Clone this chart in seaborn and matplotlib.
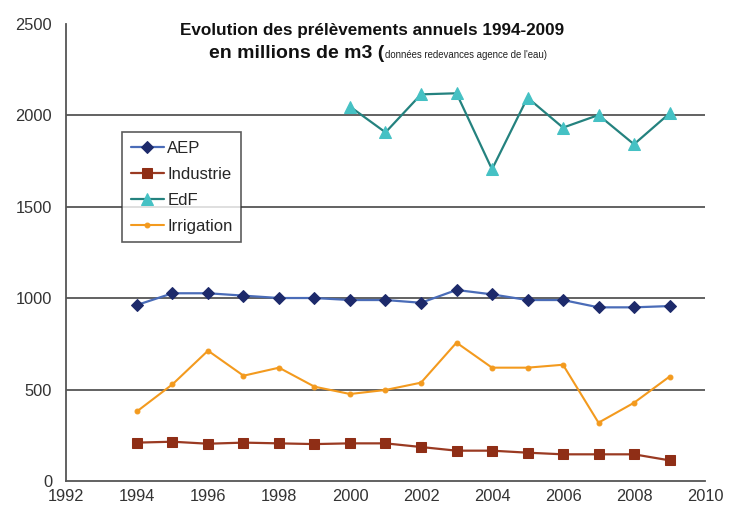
import matplotlib
matplotlib.use("Agg")
import matplotlib.pyplot as plt
import numpy as np
import pandas as pd
import seaborn as sns

years = list(range(1994, 2010))
aep = [963, 1027, 1027, 1014, 1001, 1001, 990, 990, 975, 1045, 1021, 990, 990, 950, 950, 957]
industrie = [210, 215, 204, 210, 206, 202, 206, 206, 186, 166, 166, 155, 146, 146, 146, 113]
edf_years = list(range(2000, 2010))
edf = [2048, 1907, 2115, 2121, 1705, 2097, 1933, 2002, 1842, 2011]
irrigation = [381, 529, 713, 576, 620, 516, 476, 498, 538, 757, 620, 620, 636, 319, 428, 571]

sns.set_theme(style="white")
plt.rcParams['font.family'] = ['Liberation Sans', 'DejaVu Sans']

fig = plt.figure(figsize=(7.39, 5.18), dpi=100)
ax = fig.add_axes([0.0893, 0.0714, 0.8647, 0.8823])

grid_c = "#555555"
for yv in [500, 1000, 1500, 2000]:
    ax.axhline(yv, color=grid_c, lw=1.3, zorder=0)

sns.lineplot(x=years, y=aep, ax=ax, color="#4a6cb8", lw=1.6, marker="D", markersize=6,
             markerfacecolor="#1d2a6b", markeredgecolor="#1d2a6b", label="AEP")
sns.lineplot(x=years, y=industrie, ax=ax, color="#9a3a22", lw=1.6, marker="s", markersize=7,
             markerfacecolor="#8f2e16", markeredgecolor="#8f2e16", label="Industrie")
sns.lineplot(x=edf_years, y=edf, ax=ax, color="#24827f", lw=1.6, marker="^", markersize=8,
             markerfacecolor="#45c1c4", markeredgecolor="#45c1c4", label="EdF")
sns.lineplot(x=years, y=irrigation, ax=ax, color="#f39a1e", lw=1.5, marker="o", markersize=3.5,
             markerfacecolor="#f39a1e", markeredgecolor="#f39a1e", label="Irrigation")

ax.set_xlim(1992, 2010)
ax.set_ylim(0, 2500)
ax.set_xticks(range(1992, 2011, 2))
ax.set_yticks(range(0, 2501, 500))
ax.tick_params(axis="both", direction="out", length=5, width=1.2, color=grid_c,
               labelsize=11.8, labelcolor="#333333")
ax.tick_params(axis="x", pad=1)
ax.tick_params(axis="y", pad=5)
for s in ["top", "right"]:
    ax.spines[s].set_visible(False)
for s in ["left", "bottom"]:
    ax.spines[s].set_color(grid_c)
    ax.spines[s].set_linewidth(1.3)

leg = ax.legend(loc="upper left", bbox_to_anchor=(0.088, 0.763), frameon=True, fancybox=False,
                edgecolor="#333333", fontsize=12, handlelength=2.0, handletextpad=0.2,
                borderpad=0.5, labelspacing=0.66, borderaxespad=0)
leg.get_frame().set_linewidth(1.2)

fig.text(0.503, 0.942, "Evolution des prélèvements annuels 1994-2009",
         ha="center", va="center", fontsize=12.3, fontweight="bold", color="#111111")
fig.text(0.520, 0.897, "en millions de m3 (",
         ha="right", va="center", fontsize=14, fontweight="bold", color="#111111")
fig.text(0.521, 0.894, "données redevances agence de l'eau)",
         ha="left", va="center", fontsize=6.9, color="#222222")

fig.savefig("out.png", dpi=100)
